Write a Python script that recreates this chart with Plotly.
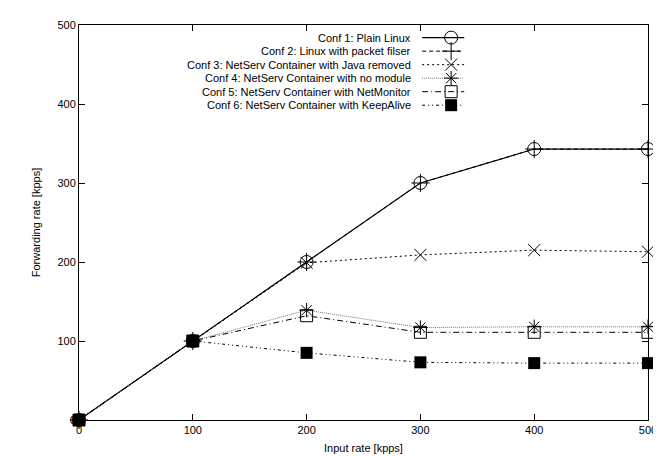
import plotly.graph_objects as go

input_rate = [0, 100, 200, 300, 400, 500]
conf1 = [0, 100, 200, 300, 343, 343]
conf2 = [0, 100, 200, 300, 343, 343]
conf3 = [0, 100, 199, 209, 215, 213]
conf4 = [0, 100, 139, 117, 118, 118]
conf5 = [0, 100, 132, 111, 111, 111]
conf6 = [0, 100, 85, 73, 72, 72]

names = [
    "Conf 1: Plain Linux",
    "Conf 2: Linux with packet filser",
    "Conf 3: NetServ Container with Java removed",
    "Conf 4: NetServ Container with no module",
    "Conf 5: NetServ Container with NetMonitor",
    "Conf 6: NetServ Container with KeepAlive",
]
series = [conf1, conf2, conf3, conf4, conf5, conf6]

x_ticks = [0, 100, 200, 300, 400, 500]
y_ticks = [0, 100, 200, 300, 400, 500]

styles = [
    dict(line=dict(color="black", width=1.2, dash="solid"),
         marker=dict(symbol="circle-open", size=13, color="black", line=dict(width=1, color="black"))),
    dict(line=dict(color="black", width=1, dash="4px,3px"),
         marker=dict(symbol="cross-thin", size=13, color="black", line=dict(width=1, color="black"))),
    dict(line=dict(color="black", width=1, dash="2px,3px"),
         marker=dict(symbol="x-thin", size=12, color="black", line=dict(width=1, color="black"))),
    dict(line=dict(color="#777777", width=1, dash="1px,1px"),
         marker=dict(symbol="asterisk-open", size=12, color="black", line=dict(width=1, color="black"))),
    dict(line=dict(color="black", width=1, dash="6px,3px,1px,3px"),
         marker=dict(symbol="square-open", size=12, color="black", line=dict(width=1, color="black"))),
    dict(line=dict(color="black", width=1, dash="3px,3px,1px,3px,1px,3px"),
         marker=dict(symbol="square", size=12, color="black", line=dict(width=0, color="black"))),
]

fig = go.Figure()
for name, ys, st in zip(names, series, styles):
    fig.add_trace(go.Scatter(x=input_rate, y=ys, mode="lines+markers", name=name,
                             line=st["line"], marker=st["marker"], showlegend=False,
                             cliponaxis=False))

# custom gnuplot-style legend (text left, key sample right) on an overlay axis
leg_x_text = 0.587
leg_x0, leg_x1, leg_xm = 0.603, 0.677, 0.654
leg_y0 = 0.968
leg_dy = 0.0342
annotations = []
for i, (name, st) in enumerate(zip(names, styles)):
    yy = leg_y0 - i * leg_dy
    fig.add_trace(go.Scatter(x=[leg_x0, leg_x1], y=[yy, yy], mode="lines", line=st["line"],
                             xaxis="x2", yaxis="y2", showlegend=False, hoverinfo="skip"))
    fig.add_trace(go.Scatter(x=[leg_xm], y=[yy], mode="markers", marker=st["marker"],
                             xaxis="x2", yaxis="y2", showlegend=False, hoverinfo="skip"))
    annotations.append(dict(x=leg_x_text, y=yy, xref="x2", yref="y2", text=name,
                            showarrow=False, xanchor="right", yanchor="middle",
                            font=dict(size=11, color="black")))

axis_common = dict(showgrid=False, zeroline=False, showline=True, linecolor="black",
                   linewidth=1, mirror="allticks", ticks="inside", ticklen=6,
                   tickcolor="black", tickwidth=1, tickfont=dict(size=11, color="black"))

fig.update_layout(
    width=661, height=456,
    margin=dict(l=71, r=21, t=11, b=41),
    paper_bgcolor="white", plot_bgcolor="white",
    font=dict(family="Liberation Sans, Arial, sans-serif", size=11, color="black"),
    xaxis=dict(range=[0, 500], tickvals=x_ticks, ticktext=[str(v) for v in x_ticks],
               title=dict(text="Input rate [kpps]", font=dict(size=11), standoff=9),
               **axis_common),
    yaxis=dict(range=[0, 500], tickvals=y_ticks, ticktext=[str(v) for v in y_ticks],
               title=dict(text="Forwarding rate [kpps]", font=dict(size=11), standoff=14),
               **axis_common),
    xaxis2=dict(range=[0, 1], overlaying="x", visible=False, fixedrange=True),
    yaxis2=dict(range=[0, 1], overlaying="y", visible=False, fixedrange=True),
    annotations=annotations,
    showlegend=False,
)

fig.write_html("out.html")
